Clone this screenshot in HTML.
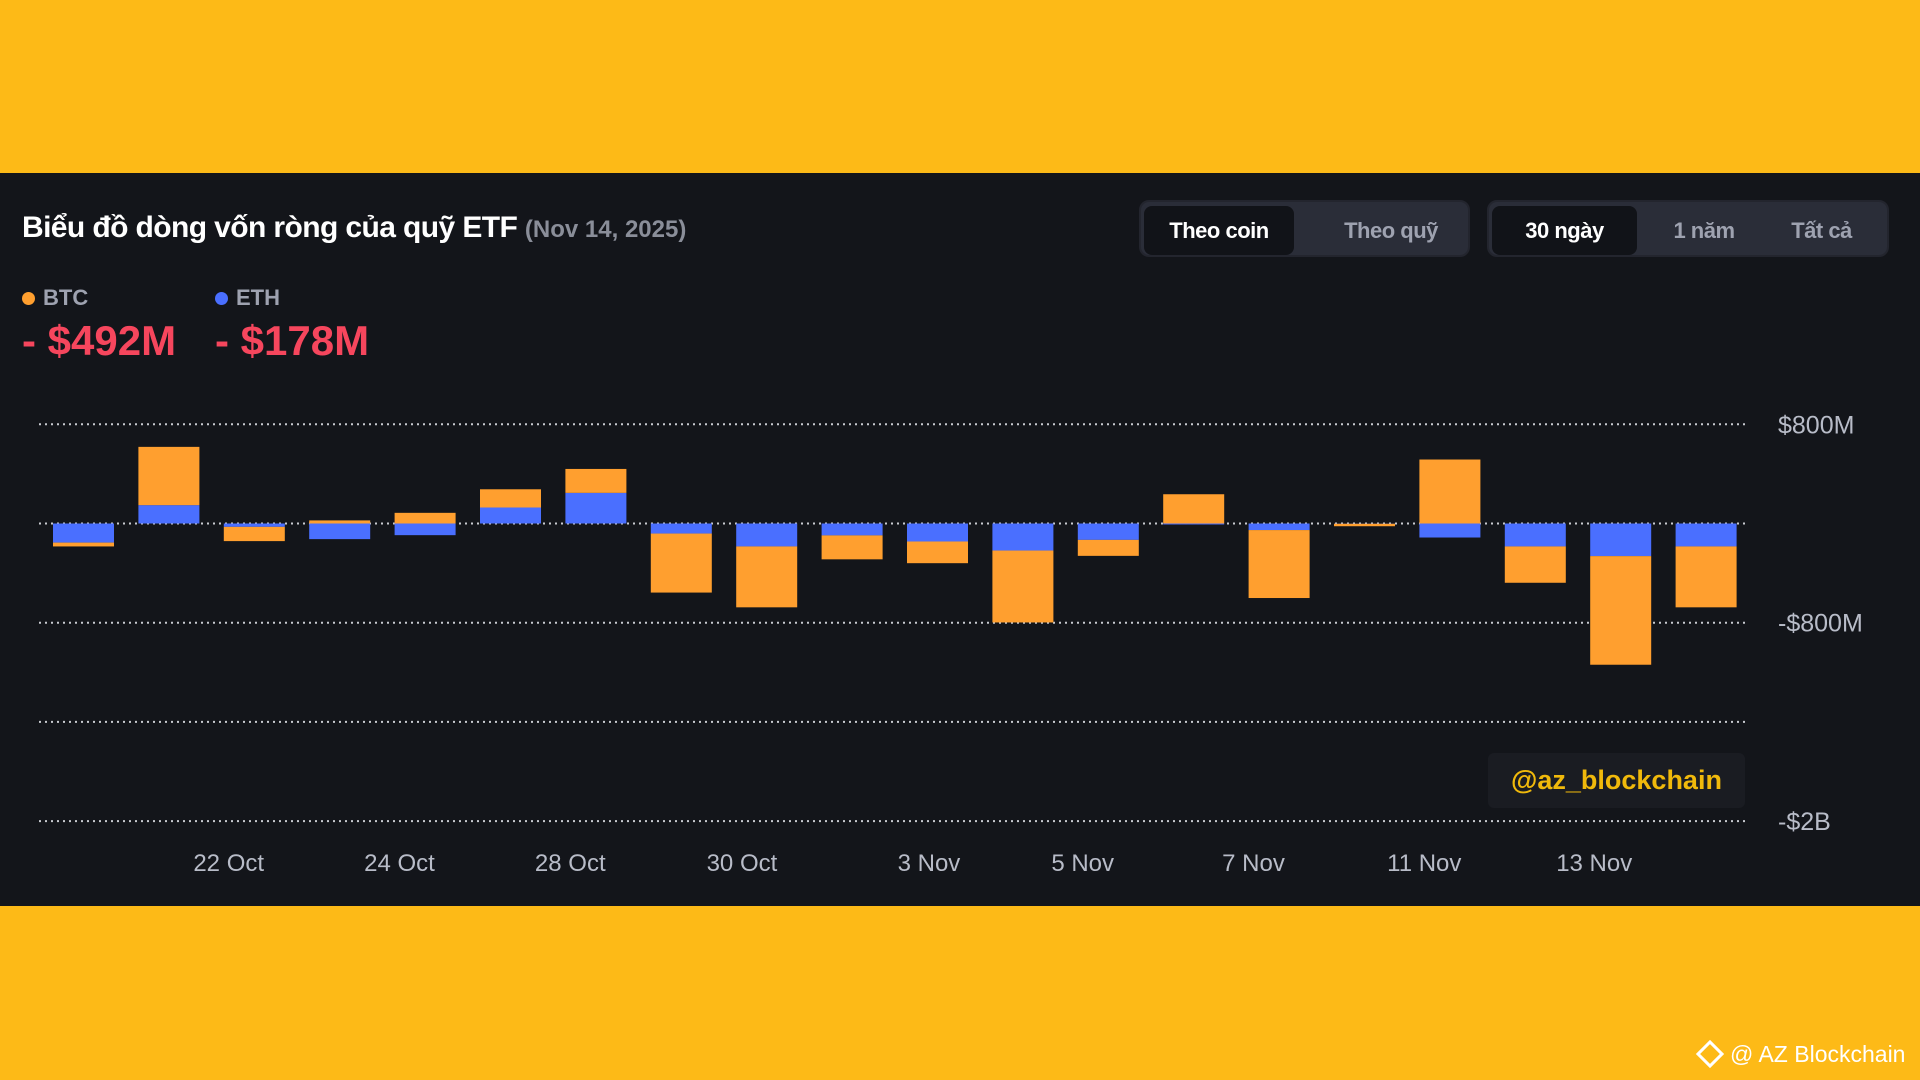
<!DOCTYPE html>
<html><head><meta charset="utf-8"><style>
body{margin:0;width:1920px;height:1080px;background:#fdba17;overflow:hidden;font-family:"Liberation Sans","Noto Sans CJK SC",sans-serif;position:relative}
#panel{position:absolute;left:0;top:173px;width:1920px;height:733px;background:#13151a}
.abs{position:absolute}
.grp{position:absolute;top:200px;height:57px;background:#2a2d38;border-radius:10px;box-sizing:border-box;border:2px solid #23252e}
.btn{position:absolute;top:4px;height:49px;line-height:49px;text-align:center;color:#9ea2b0;font-size:22px;font-weight:bold;border-radius:8px;letter-spacing:-0.5px}
.btn.on{background:#111318;color:#fff}
</style></head><body>
<div id="panel"></div>
<div class="abs" style="left:22px;top:211px;color:#fff;font-size:30px;font-weight:bold;letter-spacing:-0.6px">Biểu đồ dòng vốn ròng của quỹ ETF <span style="color:#8a8e99;font-size:24px;font-weight:bold;letter-spacing:0">(Nov 14, 2025)</span></div>
<div class="grp" style="left:1139px;width:331px">
<div class="btn on" style="left:3px;width:150px">Theo coin</div>
<div class="btn" style="left:175px;width:150px">Theo quỹ</div></div>
<div class="grp" style="left:1487px;width:402px">
<div class="btn on" style="left:3px;width:145px">30 ngày</div>
<div class="btn" style="left:155px;width:120px">1 năm</div>
<div class="btn" style="left:275px;width:115px">Tất cả</div></div>
<div class="abs" style="left:22px;top:285px;color:#9ea2b0;font-size:22px;font-weight:bold"><span style="display:inline-block;width:13px;height:13px;border-radius:50%;background:#ff9f2f;margin-right:8px"></span>BTC</div>
<div class="abs" style="left:215px;top:285px;color:#9ea2b0;font-size:22px;font-weight:bold"><span style="display:inline-block;width:13px;height:13px;border-radius:50%;background:#4a6fff;margin-right:8px"></span>ETH</div>
<div class="abs" style="left:22px;top:317px;color:#f6465d;font-size:42px;font-weight:bold">- $492M</div>
<div class="abs" style="left:215px;top:317px;color:#f6465d;font-size:42px;font-weight:bold">- $178M</div>
<svg id="chart" class="abs" style="left:0;top:0" width="1920" height="1080"></svg>
<div class="abs" style="left:1488px;top:753px;width:257px;height:55px;background:#1a1c22;border-radius:6px;color:#f0b90b;font-size:27px;font-weight:bold;line-height:55px;text-align:center">@az_blockchain</div>
<div class="abs" style="left:1700px;top:1041px;color:#fff;font-size:23px"><span style="display:inline-block;width:14px;height:14px;border:3px solid #fff;transform:rotate(45deg);margin-right:10px;vertical-align:-2px"></span>@ AZ Blockchain</div>
<script>
const btc=[-31,470,-115,25,86,147,193,-476,-491,-193,-175,-580,-129,236,-548,-20,516,-293,-876,-491];
const eth=[-154,148,-27,-126,-94,129,247,-81,-185,-96,-145,-218,-132,-8,-53,-2,-113,-185,-263,-185];
const gridVals=[800,0,-800,-1600,-2400];
const tickLabels=["$800M","","-$800M","","-$2B"];
const xLabels=["22 Oct","24 Oct","28 Oct","30 Oct","3 Nov","5 Nov","7 Nov","11 Nov","13 Nov"];
const xLabelPos=[1.7,3.7,5.7,7.71,9.9,11.7,13.7,15.7,17.69];
const svg=document.getElementById('chart');const NS='http://www.w3.org/2000/svg';
const y0=523.5,k=99.2/800;const y=v=>y0-v*k;
const x=i=>53+i*85.4;const bw=61;
function mk(t,a){const e=document.createElementNS(NS,t);for(const n in a)e.setAttribute(n,a[n]);svg.appendChild(e);return e;}
gridVals.forEach((g,i)=>{const l=mk('line',{x1:39,x2:1745,y1:y(g),y2:y(g),stroke:'#c8cad0','stroke-width':2,'stroke-dasharray':'2 4'});


if(tickLabels[i]){const t=mk('text',{x:1778,y:y(g)+9,fill:'#b8bcc8','font-size':25,'font-family':'Liberation Sans'});t.textContent=tickLabels[i];

}});
function seg(i,base,v,col){const a=y(base),b=y(base+v);const r=mk('rect',{x:x(i),y:Math.min(a,b),width:bw,height:Math.abs(a-b),fill:col});return r;}
btc.forEach((b,i)=>{const e=eth[i];let r1,r2;
if(Math.sign(b)===Math.sign(e)){r2=seg(i,0,e,'#4a6fff');r1=seg(i,e,b,'#ff9f2f');}
else{r1=seg(i,0,b,'#ff9f2f');r2=seg(i,0,e,'#4a6fff');}



});
xLabels.forEach((s,i)=>{const t=mk('text',{x:x(xLabelPos[i])+bw/2,y:871,fill:'#b8bcc8','font-size':24,'text-anchor':'middle','font-family':'Liberation Sans'});t.textContent=s;

});
</script>
</body></html>
